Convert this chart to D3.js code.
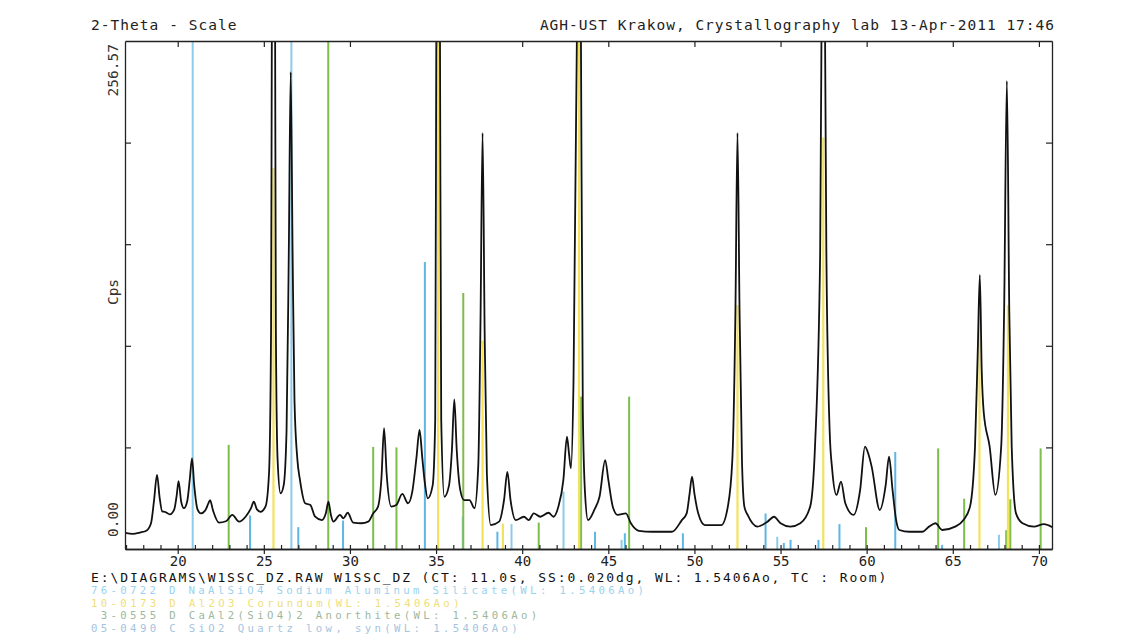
<!DOCTYPE html>
<html><head><meta charset="utf-8">
<script src="https://cdn.jsdelivr.net/npm/d3@7"></script>
<style>body{margin:0;background:#fff}svg{display:block}</style>
</head><body>
<svg id="c" width="1140" height="643"></svg>
<script>
// ---------- data ----------
const twoTheta = [16.95,17.4,17.8,18.2,18.45,18.62,18.8,18.95,19.1,19.25,19.55,19.8,19.94,20.05,20.2,20.36,20.55,20.7,20.83,20.96,21.15,21.35,21.6,21.78,21.88,22.05,22.4,22.8,23.17,23.56,23.94,24.25,24.42,24.6,24.81,25.1,25.3,25.42,25.47,25.56,25.65,25.7,25.8,25.97,26.15,26.32,26.45,26.56,26.67,26.78,26.95,27.1,27.4,27.7,27.98,28.37,28.6,28.75,28.9,29.04,29.42,29.62,29.87,30.19,30.67,31.06,31.35,31.63,31.83,31.98,32.13,32.4,32.69,33.04,33.37,33.62,33.86,34.04,34.2,34.33,34.52,34.8,34.95,35.02,35.12,35.22,35.3,35.48,35.75,35.92,36.06,36.2,36.4,36.63,36.94,37.23,37.45,37.58,37.7,37.82,37.95,38.18,38.66,38.95,39.14,39.32,39.62,40.1,40.38,40.67,41.05,41.53,41.82,42.1,42.39,42.6,42.72,42.83,42.98,43.2,43.3,43.4,43.52,43.65,43.82,44.2,44.49,44.82,45.0,45.26,45.54,46.02,46.31,46.78,47.55,48.7,49.27,49.55,49.72,49.86,50.0,50.22,50.6,51.56,51.94,52.2,52.38,52.5,52.62,52.76,52.9,53.09,53.66,54.24,54.62,55.0,55.57,56.15,56.72,57.0,57.3,57.4,57.48,57.56,57.66,57.85,58.0,58.25,58.51,58.76,59.24,59.62,59.9,60.1,60.29,60.76,61.1,61.3,61.5,61.71,61.9,62.48,63.24,63.62,64.0,64.38,65.14,65.62,66.0,66.29,66.45,66.57,66.68,66.8,67.14,67.47,67.81,67.98,68.14,68.28,68.42,68.67,69.05,69.71,70.29,70.86];
const cps = [8.1,7.6,8.3,9.4,13,24,37.4,26,19,18.8,17.5,20,27,34.3,24,20.6,24,35,45.8,32,20,18,19.5,23,24.7,19.5,13.3,14,17.2,13.8,16.3,20.5,23.9,20,18.8,21.5,38,110,280,420,280,110,45,28.1,32,60,150,240.9,150,75,45,34.8,23.1,22.2,16.3,14.6,18,23.9,17,13.8,17.2,15.5,18.3,13.3,13.0,13.8,18.0,21.4,36,61.0,38,21.4,22.2,27.8,23.1,29,46,60.1,46,34.8,25.6,32,65,280,420,280,65,26.4,32,50,75.6,50,30,24.7,24.7,20.6,42,115,210.1,110,38,12.1,13.8,25,39.0,25,14.6,16.3,14.6,18.0,16.3,18.3,16.3,21.4,34.8,56.7,48,40.8,85,280,420,280,70,28,14.6,20,26.4,44.9,35,21.4,17.2,18.0,13.0,9.2,8.7,8.7,14.6,18.0,28,36.5,28,18.0,12.1,12.1,21.4,45,120,210.1,120,45,21.4,17.2,11.3,13.8,16.3,13.0,11.3,13.0,21.4,51.7,150,300,420,300,150,60,40,27.3,34.0,23.1,17.2,29.8,51.7,48,41.6,19.7,32,46.6,30,14.6,9.6,8.7,8.7,11.3,13.0,9.6,11.3,14.6,21.4,51.7,100,138.4,90,68.7,51.7,27.3,51.7,120,236.4,120,51.7,18.0,13.0,11.3,12.6,10.6];

// reference patterns: positions (2-theta) and relative intensity (% of full scale)
const naTheta = [24.2,27.0,29.6,34.35,38.56,44.23,45.96,49.33,54.13,55.19,55.58,57.2,58.42,61.66,64.38];
const naInt   = [6.6,4.3,5.6,56.5,3.4,3.4,3.1,3.1,7,1.2,1.8,1.8,4.9,19.1,0.8];
const corTheta = [25.56,35.12,37.7,38.88,43.3,52.5,57.48,66.55,68.2];
const corInt   = [75,100,41,5,100,48,81,47,48];
const anoTheta = [22.96,28.74,31.35,32.7,36.58,40.96,43.42,46.21,59.96,64.15,65.66,68.1,68.34,70.1];
const anoInt   = [20.5,100,20.1,20,50.4,5.2,30,30,4.3,19.8,9.9,3.7,9.8,19.8];
const qzTheta = [20.87,26.6,36.55,39.38,42.4,45.77,54.81,67.68];
const qzInt   = [100,100,6.4,4.9,11.3,1.8,2.4,2.8];

const xMajor = [20,25,30,35,40,45,50,55,60,65,70];
const xMinor = d3.range(17,71,1);
const yMax = 256.57;
const yTicks = [1,2,3,4].map(k => yMax*k/5);

const headerLeft = "2-Theta - Scale";
const headerRight = "AGH-UST Krakow, Crystallography lab 13-Apr-2011 17:46";
const yTop = "256.57", yBottom = "0.00", yTitle = "Cps";
const legendLines = [
  "E:\\DIAGRAMS\\W1SSC_DZ.RAW W1SSC_DZ (CT: 11.0s, SS:0.020dg, WL: 1.5406Ao, TC : Room)",
  "76-0722 D NaAlSiO4 Sodium Aluminum Silicate(WL: 1.5406Ao)",
  "10-0173 D Al2O3 Corundum(WL: 1.5406Ao)",
  " 3-0555 D CaAl2(SiO4)2 Anorthite(WL: 1.5406Ao)",
  "05-0490 C SiO2 Quartz low, syn(WL: 1.5406Ao)"
];
const legendColors = ["#111","#9bd2ee","#efe07a","#9db89c","#a6c4de"];

// ---------- drawing ----------
const L = 125, R = 1052, T = 41, B = 549;
const svg = d3.select("#c");
const x = d3.scaleLinear().domain([16.94, 70.76]).range([L, R]);
const y = d3.scaleLinear().domain([0, yMax]).range([B, T]);
const yRel = d3.scaleLinear().domain([0, 100]).range([B, T]);
const font = "'DejaVu Sans Mono', monospace";

svg.append("defs").append("clipPath").attr("id","clip")
  .append("rect").attr("x",L).attr("y",T).attr("width",R-L).attr("height",B-T);

const plot = svg.append("g").attr("clip-path","url(#clip)");
function sticks(th, inten, color, w){
  plot.append("g").selectAll("line").data(th.map((t,i)=>[t,inten[i]])).join("line")
    .attr("x1",d=>x(d[0])).attr("x2",d=>x(d[0]))
    .attr("y1",B).attr("y2",d=>yRel(d[1]))
    .attr("stroke",color).attr("stroke-width",w);
}
sticks(qzTheta, qzInt, "#8ccbe9", 2);
sticks(naTheta, naInt, "#5db6e4", 2);
sticks(anoTheta, anoInt, "#7dbd4c", 2);
sticks(corTheta, corInt, "#f1e35c", 2.2);

const line = d3.line().x((d,i)=>x(twoTheta[i])).y(d=>y(d)).curve(d3.curveMonotoneX);
plot.append("path").datum(cps).attr("d",line)
  .attr("fill","none").attr("stroke","#111").attr("stroke-width",1.8).attr("stroke-linejoin","round");

// axes
function styleAxis(g){
  g.selectAll("path.domain").attr("stroke","#222").attr("stroke-width",1.3);
  g.selectAll(".tick line").attr("stroke","#222").attr("stroke-width",1.2);
  g.selectAll("text").attr("font-family",font).attr("font-size",14).attr("fill","#222");
}
svg.append("g").attr("transform",`translate(0,${B})`)
  .call(d3.axisTop(x).tickValues(xMinor).tickSize(4).tickSizeOuter(0).tickFormat(""))
  .call(styleAxis);
svg.append("g").attr("transform",`translate(0,${B})`)
  .call(d3.axisBottom(x).tickValues(xMajor).tickSize(5).tickSizeOuter(0).tickPadding(2).tickFormat(d3.format("d")))
  .call(styleAxis);
svg.append("g").attr("transform",`translate(0,${T})`)
  .call(d3.axisBottom(x).tickValues(xMajor).tickSize(6).tickSizeOuter(0).tickFormat(""))
  .call(styleAxis);
svg.append("g").attr("transform",`translate(${L},0)`)
  .call(d3.axisRight(y).tickValues(yTicks).tickSize(6).tickSizeOuter(0).tickFormat(""))
  .call(styleAxis);
svg.append("g").attr("transform",`translate(${R},0)`)
  .call(d3.axisLeft(y).tickValues(yTicks).tickSize(6).tickSizeOuter(0).tickFormat(""))
  .call(styleAxis);

// texts
const cw = 9.7;
function txt(s, xx, yy, color, size, anchor){
  const t = svg.append("text").attr("x",xx).attr("y",yy).attr("font-family",font)
    .attr("font-size",size).attr("fill",color).attr("xml:space","preserve")
    .attr("text-anchor",anchor||"start").text(s);
  t.attr("textLength", s.length*cw).attr("lengthAdjust","spacing");
  return t;
}
txt(headerLeft, 91, 30, "#222", 14.5);
txt(headerRight, 1054, 30, "#222", 14.5, "end");
txt(legendLines[0], 91, 581.5, legendColors[0], 13);
legendLines.slice(1).forEach((s,i)=> txt(s, 91, 594 + i*12.6, legendColors[i+1], 10.7));

function vtxt(s, yy, anchor){
  svg.append("text").attr("transform",`translate(118,${yy}) rotate(-90)`)
    .attr("font-family",font).attr("font-size",14.5).attr("fill","#333")
    .attr("text-anchor",anchor).text(s);
}
vtxt(yTop, 44, "end");
vtxt(yTitle, 292, "middle");
vtxt(yBottom, 537, "start");
</script>
</body></html>
